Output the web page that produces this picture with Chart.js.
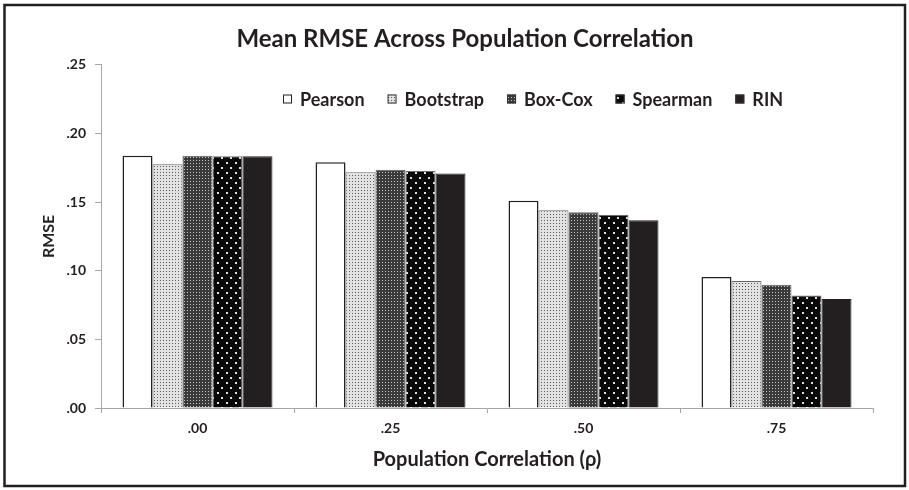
<!DOCTYPE html>
<html>
<head>
<meta charset="utf-8">
<script src="https://cdn.jsdelivr.net/npm/chart.js@4"></script>
<style>
  html, body { margin: 0; padding: 0; background: #fff; }
  #wrap { width: 909px; height: 490px; }
</style>
</head>
<body>
<div id="wrap"><canvas id="c" width="909" height="490"></canvas></div>
<script>
// Mean RMSE of each correlation method, per population correlation
const categories = ['.00', '.25', '.50', '.75'];
const pearson   = [0.1837, 0.1790, 0.1509, 0.0955];
const bootstrap = [0.1776, 0.1718, 0.1441, 0.0926];
const boxCox    = [0.1837, 0.1735, 0.1426, 0.0897];
const spearman  = [0.1834, 0.1727, 0.1407, 0.0819];
const rin       = [0.1834, 0.1708, 0.1368, 0.0794];
const seriesNames = ['Pearson', 'Bootstrap', 'Box-Cox', 'Spearman', 'RIN'];
const yTickLabels = ['.00', '.05', '.10', '.15', '.20', '.25'];

const INK = '#231f20';
const AXIS = '#a6a6a6';
const FONT = 'Lato';

const canvas = document.getElementById('c');
const ctx = canvas.getContext('2d');

// small repeating tiles used as print-style fills
function makePattern(w, h, bg, dots) {
  const t = document.createElement('canvas');
  t.width = w; t.height = h;
  const g = t.getContext('2d');
  g.fillStyle = bg; g.fillRect(0, 0, w, h);
  dots.forEach(([x, y, s, col]) => { g.fillStyle = col; g.fillRect(x, y, s, s); });
  return ctx.createPattern(t, 'repeat');
}
const lightDots = makePattern(3, 3, '#e2e2e2', [[1, 1, 1, '#5e5e5e']]);
const darkGrid  = makePattern(3, 3, '#3a3a3a', [[1, 1, 1, '#c4c4c4']]);
const blackDots = makePattern(9, 10, '#080808', [[1, 2, 2, '#e0e0e0'], [5, 7, 2, '#e0e0e0']]);

const seriesValues = [pearson, bootstrap, boxCox, spearman, rin];
const fills   = ['#ffffff', lightDots, darkGrid, blackDots, INK];
const borders = [INK, '#6a6a6a', '#6a6a6a', '#6a6a6a', INK];
const widths  = [1.5, 1, 1, 1, 1];

const datasets = seriesNames.map((name, i) => ({
  label: name,
  data: seriesValues[i],
  backgroundColor: fills[i],
  borderColor: borders[i],
  borderWidth: widths[i]
}));

// white page and black frame around the figure
const framePlugin = {
  id: 'frame',
  beforeDraw(chart) {
    const c = chart.ctx;
    c.save();
    c.fillStyle = '#fff';
    c.fillRect(0, 0, chart.width, chart.height);
    c.restore();
  },
  afterDraw(chart) {
    const c = chart.ctx;
    c.save();
    c.strokeStyle = INK;
    c.lineWidth = 2.5;
    c.strokeRect(4.5, 5, 900.5, 481);
    c.restore();
  }
};

// legend drawn inside the plot area, in one row
const insetLegend = {
  id: 'insetLegend',
  afterDraw(chart) {
    const c = chart.ctx;
    c.save();
    c.font = 'bold 18px ' + FONT;
    c.textBaseline = 'middle';
    let x = 283;
    const y = 99;
    const box = 9;
    chart.data.datasets.forEach((ds, i) => {
      c.fillStyle = ds.backgroundColor;
      c.fillRect(x, y - box / 2, box, box);
      c.strokeStyle = i === 0 ? INK : '#333';
      c.lineWidth = 1;
      c.strokeRect(x + 0.5, y - box / 2 + 0.5, box - 1, box - 1);
      c.fillStyle = INK;
      c.fillText(ds.label, x + box + 8, y + 1);
      x += box + 8 + c.measureText(ds.label).width + 23;
    });
    c.restore();
  }
};

new Chart(canvas, {
  type: 'bar',
  data: { labels: categories, datasets },
  plugins: [framePlugin, insetLegend],
  options: {
    responsive: false,
    animation: false,
    layout: { padding: { left: 39, right: 18, top: 3, bottom: 3 } },
    datasets: { bar: { categoryPercentage: 0.777, barPercentage: 1.0 } },
    plugins: {
      legend: { display: false },
      tooltip: { enabled: false },
      title: {
        display: true,
        text: 'Mean RMSE Across Population Correlation',
        color: INK,
        font: { family: FONT, size: 24, weight: 'bold' },
        padding: { top: 22, bottom: 11 }
      }
    },
    scales: {
      x: {
        grid: { display: true, drawOnChartArea: false, offset: true, tickLength: 5, color: AXIS },
        border: { color: AXIS, width: 1 },
        ticks: { padding: 7, color: INK, font: { family: FONT, size: 14, weight: 'bold' } },
        title: {
          display: true,
          text: 'Population Correlation (ρ)',
          color: INK,
          font: { family: FONT, size: 20, weight: 'bold' },
          padding: { top: 0, bottom: 15 }
        },
        afterFit: s => { s.height = 79; }
      },
      y: {
        min: 0,
        max: 0.25,
        ticks: {
          stepSize: 0.05,
          padding: 9,
          color: INK,
          font: { family: FONT, size: 14, weight: 'bold' },
          callback: (v, i) => yTickLabels[i]
        },
        grid: { drawOnChartArea: false, tickLength: 6, color: AXIS },
        border: { color: AXIS, width: 1 },
        title: {
          display: true,
          text: 'RMSE',
          color: INK,
          font: { family: FONT, size: 16, weight: 'bold' },
          padding: { top: 0, bottom: 0 }
        },
        afterFit: s => { s.width = 62; }
      },
      spacer: {
        position: 'right',
        display: true,
        grid: { display: false },
        ticks: { display: false },
        border: { display: false },
        afterFit: s => { s.width = 18; }
      }
    }
  }
});
</script>
</body>
</html>
